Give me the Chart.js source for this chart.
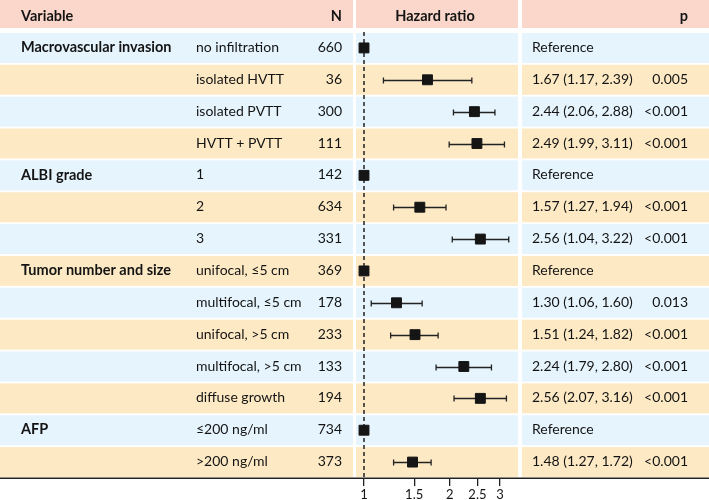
<!DOCTYPE html>
<html>
<head>
<meta charset="utf-8">
<script src="https://cdn.jsdelivr.net/npm/chart.js@4/dist/chart.umd.min.js"></script>
<style>
  html, body { margin: 0; padding: 0; background: #ffffff; }
  #wrap { width: 709px; height: 500px; position: relative; }
</style>
</head>
<body>
<div id="wrap"><canvas id="c" width="709" height="500"></canvas></div>
<script>
// ---- data ----
const variables = ['Macrovascular invasion', '', '', '', 'ALBI grade', '', '', 'Tumor number and size', '', '', '', '', 'AFP', ''];
const subgroups = ['no infiltration', 'isolated HVTT', 'isolated PVTT', 'HVTT + PVTT', '1', '2', '3',
  'unifocal, \u22645 cm', 'multifocal, \u22645 cm', 'unifocal, >5 cm', 'multifocal, >5 cm', 'diffuse growth',
  '\u2264200 ng/ml', '>200 ng/ml'];
const nValues = [660, 36, 300, 111, 142, 634, 331, 369, 178, 233, 133, 194, 734, 373];
const hazardRatio = [1, 1.67, 2.44, 2.49, 1, 1.57, 2.56, 1, 1.30, 1.51, 2.24, 2.56, 1, 1.48];
const ciLower = [null, 1.17, 2.06, 1.99, null, 1.27, 2.04, null, 1.06, 1.24, 1.79, 2.07, null, 1.27];
const ciUpper = [null, 2.39, 2.88, 3.11, null, 1.94, 3.22, null, 1.60, 1.82, 2.80, 3.16, null, 1.72];
const hrText = ['Reference', '1.67 (1.17, 2.39)', '2.44 (2.06, 2.88)', '2.49 (1.99, 3.11)', 'Reference',
  '1.57 (1.27, 1.94)', '2.56 (1.04, 3.22)', 'Reference', '1.30 (1.06, 1.60)', '1.51 (1.24, 1.82)',
  '2.24 (1.79, 2.80)', '2.56 (2.07, 3.16)', 'Reference', '1.48 (1.27, 1.72)'];
const pValues = ['', '0.005', '<0.001', '<0.001', '', '<0.001', '<0.001', '', '0.013', '<0.001', '<0.001', '<0.001', '', '<0.001'];
const xTicks = [1, 1.5, 2, 2.5, 3];
const headers = ['Variable', 'N', 'Hazard ratio', 'p'];

// ---- styles ----
const FONT = 'Lato, "Open Sans", sans-serif';
const C_HEAD = '#fad7ca';
const C_BLUE = '#e6f4fd';
const C_YELLOW = '#fdeac5';
const C_TEXT = '#141414';
const COLS = [[0, 353], [356, 518], [522, 709]];

const tablePlugin = {
  id: 'table',
  beforeDraw(chart) {
    const ctx = chart.ctx, y = chart.scales.y;
    ctx.save();
    ctx.fillStyle = '#ffffff';
    ctx.fillRect(0, 0, chart.width, chart.height);
    // header
    ctx.fillStyle = C_HEAD;
    COLS.forEach(c => ctx.fillRect(c[0], 0, c[1] - c[0], 28));
    // rows
    subgroups.forEach((s, i) => {
      const cy = y.getPixelForValue(i);
      ctx.fillStyle = i % 2 === 0 ? C_BLUE : C_YELLOW;
      COLS.forEach(c => ctx.fillRect(c[0], cy - 15, c[1] - c[0], 30));
    });
    // reference dashed line
    const x1 = chart.scales.x.getPixelForValue(1);
    ctx.strokeStyle = '#222';
    ctx.lineWidth = 1.5;
    ctx.setLineDash([4, 3]);
    ctx.beginPath();
    ctx.moveTo(x1, chart.chartArea.top);
    ctx.lineTo(x1, chart.chartArea.bottom);
    ctx.stroke();
    ctx.restore();
  },
  beforeDatasetsDraw(chart) {
    const ctx = chart.ctx, x = chart.scales.x, y = chart.scales.y;
    ctx.save();
    ctx.strokeStyle = '#222';
    ctx.lineWidth = 1.3;
    ctx.setLineDash([]);
    hazardRatio.forEach((v, i) => {
      if (ciLower[i] == null) return;
      const cy = Math.round(y.getPixelForValue(i)) + 0.5;
      const xl = x.getPixelForValue(ciLower[i]);
      const xr = x.getPixelForValue(ciUpper[i]);
      ctx.beginPath();
      ctx.moveTo(xl, cy); ctx.lineTo(xr, cy);
      ctx.moveTo(xl, cy - 3); ctx.lineTo(xl, cy + 3);
      ctx.moveTo(xr, cy - 3); ctx.lineTo(xr, cy + 3);
      ctx.stroke();
    });
    ctx.restore();
  },
  afterDraw(chart) {
    const ctx = chart.ctx, y = chart.scales.y;
    ctx.save();
    ctx.fillStyle = C_TEXT;
    ctx.textBaseline = 'middle';
    // header
    ctx.font = 'bold 14.5px ' + FONT;
    ctx.textAlign = 'left'; ctx.fillText(headers[0], 21, 16);
    ctx.textAlign = 'right'; ctx.fillText(headers[1], 342, 16);
    ctx.textAlign = 'center'; ctx.fillText(headers[2], 435, 16);
    ctx.textAlign = 'right'; ctx.fillText(headers[3], 688, 16);
    subgroups.forEach((s, i) => {
      const cy = y.getPixelForValue(i) - 0.5;
      if (variables[i]) {
        ctx.font = 'bold 14.5px ' + FONT;
        ctx.textAlign = 'left';
        ctx.fillText(variables[i], 21, cy);
      }
      ctx.font = '14px ' + FONT;
      ctx.textAlign = 'left';
      ctx.fillText(s, 196, cy);
      ctx.textAlign = 'right';
      ctx.fillText(String(nValues[i]), 342, cy);
      ctx.textAlign = 'left';
      ctx.fillText(hrText[i], 532, cy);
      ctx.textAlign = 'right';
      if (pValues[i]) ctx.fillText(pValues[i], 688, cy);
    });
    // bottom rule
    ctx.strokeStyle = '#222';
    ctx.lineWidth = 1.5;
    ctx.beginPath();
    ctx.moveTo(0, chart.chartArea.bottom + 0.25);
    ctx.lineTo(chart.width, chart.chartArea.bottom + 0.25);
    ctx.stroke();
    ctx.restore();
  }
};

new Chart(document.getElementById('c'), {
  type: 'scatter',
  data: {
    datasets: [{
      data: hazardRatio.map((v, i) => ({ x: v, y: i })),
      pointStyle: 'rect',
      pointRadius: 7,
      pointHoverRadius: 7,
      backgroundColor: '#151515',
      borderColor: '#151515',
      borderWidth: 1
    }]
  },
  options: {
    responsive: false,
    animation: false,
    events: [],
    layout: { padding: { left: 356, right: 191, top: 32, bottom: 0 } },
    plugins: { legend: { display: false }, tooltip: { enabled: false } },
    scales: {
      x: {
        type: 'logarithmic',
        min: 0.9374,
        max: 3.47,
        afterBuildTicks: (scale) => { scale.ticks = xTicks.map(v => ({ value: v, major: false })); },
        afterFit: (scale) => { scale.height = 22; },
        border: { display: false },
        grid: { display: true, drawOnChartArea: false, drawTicks: true, tickLength: 8, color: '#222', lineWidth: 1.3 },
        ticks: {
          padding: 1,
          autoSkip: false,
          maxRotation: 0,
          color: C_TEXT,
          font: { family: FONT, size: 13 },
          callback: (v) => String(v)
        }
      },
      y: {
        type: 'linear',
        display: false,
        reverse: true,
        min: -0.5,
        max: 13.5
      }
    }
  },
  plugins: [tablePlugin]
});
</script>
</body>
</html>
